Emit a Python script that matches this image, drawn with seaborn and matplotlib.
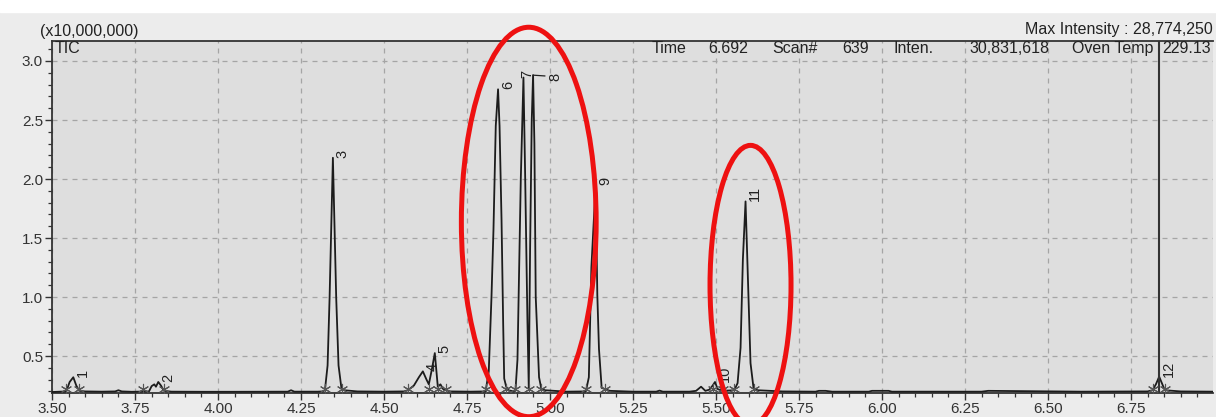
import matplotlib
matplotlib.use("Agg")
import matplotlib.pyplot as plt
from matplotlib.patches import Ellipse, Rectangle
from matplotlib.ticker import MultipleLocator, FormatStrFormatter
import seaborn as sns

# TIC trace (retention time in min, intensity in units of 10,000,000)
trace_time = [
    3.500, 3.520, 3.543, 3.553, 3.564, 3.573, 3.582, 3.600, 3.650, 3.690,
    3.700, 3.710, 3.740, 3.792, 3.800, 3.808, 3.813, 3.820, 3.828, 3.837,
    3.860, 3.950, 4.050, 4.150, 4.210, 4.220, 4.230, 4.300,
    # peak 3
    4.315, 4.322, 4.330, 4.336, 4.346, 4.356, 4.363, 4.372, 4.380, 4.420,
    4.500,
    # peaks 4-5
    4.560, 4.572, 4.590, 4.605, 4.617, 4.628, 4.635, 4.645, 4.653, 4.662,
    4.670, 4.678, 4.686, 4.700, 4.760,
    # peak 6
    4.806, 4.8155, 4.8237, 4.8297, 4.8366, 4.8435, 4.848, 4.854, 4.859,
    4.862, 4.868, 4.875, 4.890,
    # peaks 7-8
    4.896, 4.902, 4.912, 4.920, 4.925, 4.932, 4.936, 4.940, 4.945, 4.949,
    4.953, 4.957, 4.967, 4.974, 4.985, 5.050,
    # peak 9
    5.108, 5.117, 5.1246, 5.1375, 5.1425, 5.1475, 5.1556, 5.165, 5.180,
    5.250, 5.320, 5.330, 5.340, 5.420,
    # peak 10
    5.440, 5.455, 5.468, 5.480, 5.490, 5.497, 5.505, 5.520,
    # peak 11
    5.555, 5.565, 5.574, 5.581, 5.589, 5.595, 5.604, 5.613, 5.625, 5.700,
    5.800, 5.810, 5.830, 5.850, 5.900, 5.960, 5.970, 6.020, 6.030, 6.200,
    6.300, 6.320, 6.600,
    # peak 12
    6.800, 6.815, 6.825, 6.835, 6.843, 6.852, 6.900, 7.000,
]
trace_inten = [
    0.195, 0.197, 0.200, 0.280, 0.320, 0.250, 0.205, 0.200, 0.198, 0.200,
    0.210, 0.200, 0.197, 0.200, 0.245, 0.260, 0.240, 0.280, 0.250, 0.205,
    0.198, 0.197, 0.197, 0.198, 0.198, 0.210, 0.198, 0.198,
    0.200, 0.210, 0.420, 0.990, 2.180, 0.990, 0.420, 0.220, 0.210, 0.200,
    0.198,
    0.200, 0.210, 0.250, 0.320, 0.370, 0.300, 0.260, 0.400, 0.525, 0.240,
    0.260, 0.220, 0.210, 0.200, 0.198,
    0.200, 0.370, 1.000, 1.570, 2.450, 2.760, 2.450, 1.650, 0.760,
    0.310, 0.240, 0.210, 0.200,
    0.210, 0.470, 2.000, 2.860, 2.050, 0.800, 0.230, 1.400, 2.500, 2.880,
    2.300, 1.000, 0.320, 0.220, 0.210, 0.198,
    0.200, 0.320, 1.250, 1.950, 1.020, 0.560, 0.230, 0.220, 0.205,
    0.198, 0.198, 0.207, 0.198, 0.198,
    0.205, 0.240, 0.205, 0.215, 0.250, 0.280, 0.220, 0.205,
    0.210, 0.270, 0.570, 1.320, 1.810, 1.270, 0.440, 0.230, 0.210, 0.200,
    0.198, 0.205, 0.205, 0.198, 0.198, 0.198, 0.205, 0.205, 0.198, 0.198,
    0.198, 0.205, 0.198,
    0.200, 0.210, 0.260, 0.325, 0.270, 0.210, 0.200, 0.198,
]

# Peak table
peak_no = ["1", "2", "3", "4", "5", "6", "7", "8", "9", "10", "11", "12"]
peak_rt = [3.564, 3.820, 4.346, 4.617, 4.653, 4.8435, 4.920, 4.949,
           5.1375, 5.497, 5.589, 6.835]
peak_height = [0.320, 0.280, 2.180, 0.370, 0.525, 2.760, 2.860, 2.880,
               1.950, 0.280, 1.810, 0.325]

# Integration start/end marks
integ_marks = [3.543, 3.582, 3.775, 3.837, 4.322, 4.372, 4.572, 4.635,
               4.662, 4.686, 4.806, 4.868, 4.896, 4.936, 4.974, 5.108,
               5.165, 5.490, 5.520, 5.555, 5.613, 6.815, 6.852]

cursor_time = 6.835

header_labels = ["Time", "6.692", "Scan#", "639", "Inten.", "30,831,618",
                 "Oven Temp", "229.13"]
scale_text = "(x10,000,000)"
max_text = "Max Intensity : 28,774,250"

sns.set_style("ticks")
plt.rcParams["font.family"] = ["Liberation Sans", "DejaVu Sans"]

fig = plt.figure(figsize=(12.16, 4.17), dpi=100, facecolor="#ececec")
fig.add_artist(Rectangle((0, 1 - 12 / 417), 1, 12 / 417,
                         transform=fig.transFigure, color="white", zorder=0))
ax = fig.add_axes([0.0428, 0.0568, 0.9547, 0.8456])
ax.set_facecolor("#dedede")

sns.lineplot(x=trace_time, y=trace_inten, ax=ax, color="#1c1c1c",
             linewidth=1.3, estimator=None, sort=False, zorder=3)

ax.axvline(cursor_time, color="#333333", linewidth=1.5, zorder=4)

# integration markers on the baseline
sns.scatterplot(x=integ_marks, y=[0.22] * len(integ_marks), ax=ax,
                marker=(6, 2, 0), s=55, color="#555555", linewidth=0.8,
                zorder=4)

# peak number labels
label_shift = {"7": (3, 0), "8": (16, -4)}
for name, rt, h in zip(peak_no, peak_rt, peak_height):
    dx, dy = label_shift.get(name, (7, 0))
    kw = {}
    if name == "8":
        kw["arrowprops"] = dict(arrowstyle="-", color="#222222", lw=0.9,
                                shrinkA=0, shrinkB=0)
    ax.annotate(name, xy=(rt, h), xytext=(dx, dy), textcoords="offset points",
                rotation=90, ha="center", va="bottom", fontsize=10.5,
                color="#222222", zorder=5, **kw)

ax.set_xlim(3.5, 6.997)
ax.set_ylim(0.184, 3.172)
ax.xaxis.set_major_locator(MultipleLocator(0.25))
ax.xaxis.set_minor_locator(MultipleLocator(0.05))
ax.xaxis.set_major_formatter(FormatStrFormatter("%.2f"))
ax.yaxis.set_major_locator(MultipleLocator(0.5))
ax.yaxis.set_minor_locator(MultipleLocator(0.1))
ax.yaxis.set_major_formatter(FormatStrFormatter("%.1f"))
ax.tick_params(axis="both", which="major", direction="out", length=5,
               width=1.0, color="#333333", labelsize=11,
               labelcolor="#333333", pad=1.5)
ax.tick_params(axis="both", which="minor", direction="out", length=3,
               width=0.9, color="#333333")
ax.grid(True, which="major", color="#a5a5a5", linestyle=(0, (4, 4)),
        linewidth=0.9)
for side in ["left", "bottom", "top"]:
    ax.spines[side].set_color("#333333")
    ax.spines[side].set_linewidth(1.3)
ax.spines["right"].set_visible(False)
ax.set_xlabel("")
ax.set_ylabel("")

# header texts
hdr_size = 11.5
ax.text(0.002, 0.977, "TIC", transform=ax.transAxes, fontsize=hdr_size,
        ha="left", va="center", color="#222222")
header_x = [0.5168, 0.565, 0.62, 0.681, 0.725, 0.79, 0.879, 0.956]
for x, t in zip(header_x, header_labels):
    ax.text(x, 0.977, t, transform=ax.transAxes, fontsize=hdr_size,
            ha="left", va="center", color="#222222")
fig.text(0.033, 0.925, scale_text, fontsize=hdr_size, ha="left",
         va="center", color="#222222")
fig.text(0.9975, 0.929, max_text, fontsize=hdr_size, ha="right",
         va="center", color="#222222")

# highlight ellipses
for cx, cy, w, h in [(4.936, 1.636, 0.406, 3.30), (5.604, 1.10, 0.244, 2.37)]:
    ax.add_patch(Ellipse((cx, cy), w, h, fill=False, edgecolor="#ee1111",
                         linewidth=3.6, clip_on=False, zorder=6))

fig.savefig("out.png", dpi=100, facecolor=fig.get_facecolor())
